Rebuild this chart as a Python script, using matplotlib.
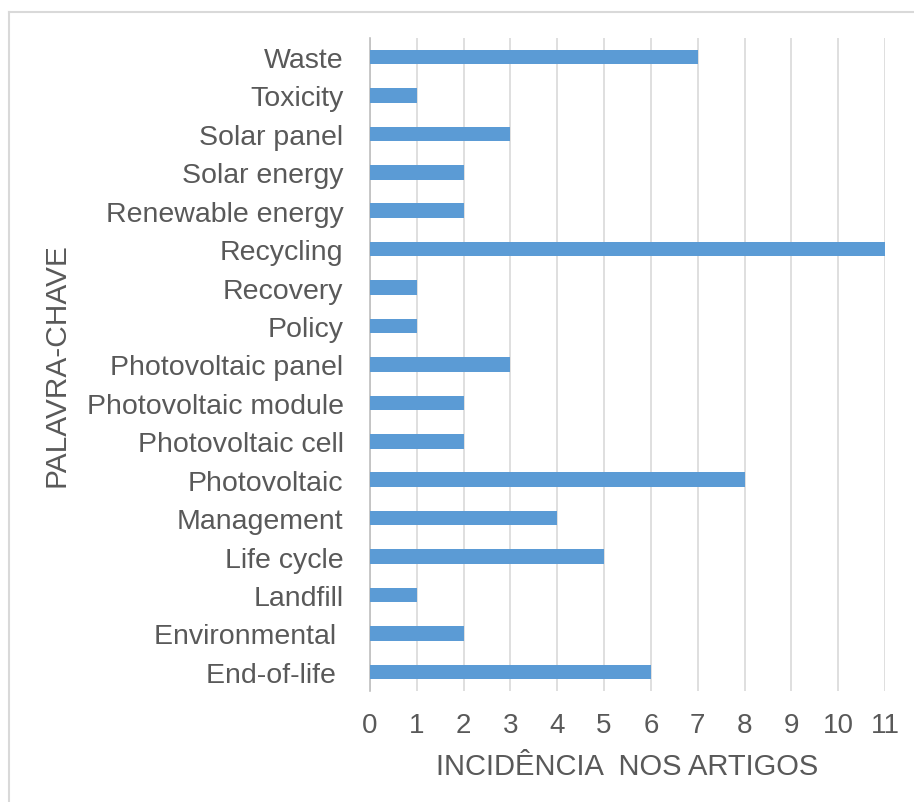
import numpy as np
import matplotlib
matplotlib.use('Agg')
import matplotlib.pyplot as plt
from matplotlib.lines import Line2D

plt.rcParams['font.family'] = ['Liberation Sans', 'DejaVu Sans']

# keywords, top to bottom, and how many articles mention each
keywords = ['Waste', 'Toxicity', 'Solar panel', 'Solar energy', 'Renewable energy',
            'Recycling', 'Recovery', 'Policy', 'Photovoltaic panel', 'Photovoltaic module',
            'Photovoltaic cell', 'Photovoltaic', 'Management', 'Life cycle', 'Landfill',
            'Environmental ', 'End-of-life ']
counts = [7, 1, 3, 2, 2, 11, 1, 1, 3, 2, 2, 8, 4, 5, 1, 2, 6]
xticks = list(range(0, 12))

TXT = '#595959'
BAR = '#5b9bd5'

fig = plt.figure(figsize=(9.14, 8.03), dpi=100)
ax = fig.add_axes([0.4048, 0.1382, 0.5635, 0.8135])

pos = np.arange(len(keywords))[::-1]
ax.barh(pos, counts, height=0.38, color=BAR, zorder=3)

ax.set_ylim(-0.5, len(keywords) - 0.5)
ax.set_xlim(0, 11)
ax.set_yticks(pos)
ax.set_yticklabels(keywords)
ax.set_xticks(xticks)

ax.grid(axis='x', color='#d9d9d9', linewidth=1.2, zorder=0)
for s in ['top', 'right', 'bottom']:
    ax.spines[s].set_visible(False)
ax.spines['left'].set_color('#bfbfbf')
ax.spines['left'].set_linewidth(1.2)

ax.tick_params(axis='y', length=0, pad=19, labelsize=20.5, labelcolor=TXT)
ax.tick_params(axis='x', length=0, pad=15, labelsize=20, labelcolor=TXT)

ax.set_xlabel('INCIDÊNCIA  NOS ARTIGOS', fontsize=21, color=TXT, labelpad=10)
fig.text(0.062, 0.545, 'PALAVRA-CHAVE', rotation=90, fontsize=21.5, color=TXT,
         ha='center', va='center')

# outer chart frame
fig.add_artist(Line2D([0.0099, 0.0099], [0, 0.9838], color='#d9d9d9', linewidth=1.5,
                      transform=fig.transFigure))
fig.add_artist(Line2D([0.0099, 1.0], [0.9838, 0.9838], color='#d9d9d9', linewidth=1.5,
                      transform=fig.transFigure))

fig.savefig('out.png', dpi=100)
